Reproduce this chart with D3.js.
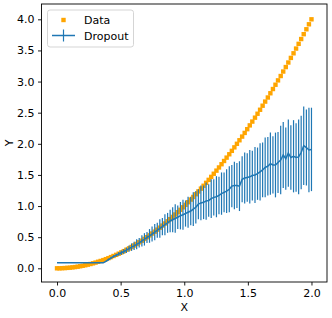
<!DOCTYPE html>
<html>
<head>
<meta charset="utf-8">
<script src="https://cdn.jsdelivr.net/npm/d3@7"></script>
<style>
  body { margin: 0; background: #fff; }
  text { font-family: "DejaVu Sans", sans-serif; }
</style>
</head>
<body>
<div id="graph"></div>
<script>
const svgw = 332
const svgh = 318

// x positions (0..2, 100 samples)
const xs = [0, 0.020, 0.040, 0.061, 0.081, 0.101, 0.121, 0.141, 0.162, 0.182,
  0.202, 0.222, 0.242, 0.263, 0.283, 0.303, 0.323, 0.343, 0.364, 0.384,
  0.404, 0.424, 0.444, 0.465, 0.485, 0.505, 0.525, 0.545, 0.566, 0.586,
  0.606, 0.626, 0.646, 0.667, 0.687, 0.707, 0.727, 0.747, 0.768, 0.788,
  0.808, 0.828, 0.848, 0.869, 0.889, 0.909, 0.929, 0.949, 0.970, 0.990,
  1.010, 1.030, 1.051, 1.071, 1.091, 1.111, 1.131, 1.152, 1.172, 1.192,
  1.212, 1.232, 1.253, 1.273, 1.293, 1.313, 1.333, 1.354, 1.374, 1.394,
  1.414, 1.434, 1.455, 1.475, 1.495, 1.515, 1.535, 1.556, 1.576, 1.596,
  1.616, 1.636, 1.657, 1.677, 1.697, 1.717, 1.737, 1.758, 1.778, 1.798,
  1.818, 1.838, 1.859, 1.879, 1.899, 1.919, 1.939, 1.960, 1.980, 2.000]

// "Data" series
const dataY = [0, 0.000, 0.002, 0.004, 0.007, 0.010, 0.015, 0.020, 0.026, 0.033,
  0.041, 0.049, 0.059, 0.069, 0.080, 0.092, 0.105, 0.118, 0.132, 0.147,
  0.163, 0.180, 0.198, 0.216, 0.235, 0.255, 0.276, 0.298, 0.320, 0.343,
  0.367, 0.392, 0.418, 0.444, 0.472, 0.500, 0.529, 0.559, 0.589, 0.621,
  0.653, 0.686, 0.720, 0.755, 0.790, 0.826, 0.864, 0.902, 0.940, 0.980,
  1.020, 1.062, 1.104, 1.146, 1.190, 1.235, 1.280, 1.326, 1.373, 1.421,
  1.469, 1.519, 1.569, 1.620, 1.672, 1.724, 1.778, 1.832, 1.887, 1.943,
  2.000, 2.057, 2.116, 2.175, 2.235, 2.296, 2.357, 2.420, 2.483, 2.547,
  2.612, 2.678, 2.744, 2.812, 2.880, 2.949, 3.019, 3.089, 3.161, 3.233,
  3.306, 3.380, 3.454, 3.530, 3.606, 3.683, 3.761, 3.840, 3.920, 4.000]

// "Dropout" mean and error
const dropMean = [0.09, 0.09, 0.09, 0.09, 0.09, 0.09, 0.09, 0.09, 0.09, 0.09,
  0.09, 0.09, 0.09, 0.09, 0.09, 0.09, 0.09, 0.09, 0.09, 0.11,
  0.14, 0.165, 0.19, 0.21, 0.23, 0.25, 0.27, 0.29, 0.315, 0.34,
  0.36, 0.385, 0.41, 0.44, 0.465, 0.495, 0.52, 0.55, 0.58, 0.61,
  0.64, 0.67, 0.70, 0.73, 0.76, 0.78, 0.80, 0.82, 0.845, 0.86,
  0.88, 0.90, 0.92, 0.95, 0.98, 1.03, 1.05, 1.06, 1.08, 1.09,
  1.12, 1.14, 1.15, 1.17, 1.20, 1.22, 1.24, 1.27, 1.32, 1.33,
  1.33, 1.32, 1.43, 1.45, 1.46, 1.47, 1.49, 1.50, 1.52, 1.55,
  1.58, 1.62, 1.64, 1.68, 1.66, 1.66, 1.70, 1.74, 1.82, 1.76,
  1.85, 1.78, 1.80, 1.78, 1.79, 1.86, 1.97, 1.94, 1.90, 1.91]

const dropErr = [0, 0, 0, 0, 0, 0, 0, 0, 0, 0,
  0, 0, 0, 0, 0, 0, 0, 0, 0, 0.01,
  0.015, 0.02, 0.02, 0.025, 0.03, 0.035, 0.04, 0.045, 0.05, 0.06,
  0.065, 0.08, 0.075, 0.09, 0.10, 0.09, 0.11, 0.12, 0.13, 0.12,
  0.15, 0.14, 0.17, 0.16, 0.18, 0.20, 0.23, 0.19, 0.22, 0.24,
  0.21, 0.25, 0.23, 0.27, 0.26, 0.24, 0.28, 0.27, 0.30, 0.26,
  0.31, 0.29, 0.33, 0.30, 0.34, 0.32, 0.35, 0.37, 0.34, 0.38,
  0.36, 0.40, 0.37, 0.41, 0.39, 0.43, 0.40, 0.45, 0.42, 0.46,
  0.44, 0.48, 0.47, 0.50, 0.46, 0.52, 0.49, 0.55, 0.53, 0.50,
  0.54, 0.52, 0.58, 0.55, 0.60, 0.59, 0.63, 0.61, 0.68, 0.67]

const xTicks = [0, 0.5, 1.0, 1.5, 2.0]
const yTicks = [0, 0.5, 1.0, 1.5, 2.0, 2.5, 3.0, 3.5, 4.0]
const legendLabels = ['Data', 'Dropout']

const orange = '#ffa500'
const blue = '#1f77b4'

const mLeft = 41.5, mRight = 327, mTop = 4, mBottom = 282

const svg = d3.select('#graph')
    .append('svg')
    .attr('width', svgw)
    .attr('height', svgh)

const xScale = d3.scaleLinear()
    .domain([-0.122, 2.122])
    .range([mLeft, mRight])
const yScale = d3.scaleLinear()
    .domain([-0.22, 4.246])
    .range([mBottom, mTop])

const pts = xs.map((x, i) => ({x: x, y: dataY[i], m: dropMean[i], e: dropErr[i]}))

// data squares
svg.append('g')
    .selectAll('rect')
    .data(pts)
    .enter()
    .append('rect')
    .attr('x', d => xScale(d.x) - 2.2)
    .attr('y', d => yScale(d.y) - 2.2)
    .attr('width', 4.4)
    .attr('height', 4.4)
    .attr('fill', orange)

// error bars
svg.append('g')
    .selectAll('line')
    .data(pts.filter(d => d.e > 0))
    .enter()
    .append('line')
    .attr('x1', d => xScale(d.x))
    .attr('x2', d => xScale(d.x))
    .attr('y1', d => yScale(d.m - d.e))
    .attr('y2', d => yScale(d.m + d.e))
    .attr('stroke', blue)
    .attr('stroke-width', 1.2)

const line = d3.line()
    .x(d => xScale(d.x))
    .y(d => yScale(d.m))

svg.append('path')
    .datum(pts)
    .attr('d', line)
    .attr('fill', 'none')
    .attr('stroke', blue)
    .attr('stroke-width', 1.5)

// axes
const xAxis = d3.axisBottom(xScale).tickValues(xTicks).tickFormat(d3.format('.1f')).tickSize(3.5).tickPadding(3.5)
const yAxis = d3.axisLeft(yScale).tickValues(yTicks).tickFormat(d3.format('.1f')).tickSize(3.5).tickPadding(3.5)

const gx = svg.append('g')
    .attr('transform', `translate(0,${mBottom})`)
    .call(xAxis)
const gy = svg.append('g')
    .attr('transform', `translate(${mLeft},0)`)
    .call(yAxis)

gx.select('.domain').remove()
gy.select('.domain').remove()
svg.selectAll('.tick text')
    .attr('font-size', 11)
    .attr('fill', '#000')
    .style('font-family', '"DejaVu Sans", sans-serif')
svg.selectAll('.tick line').attr('stroke', '#000').attr('stroke-width', 0.9)

svg.append('rect')
    .attr('x', mLeft)
    .attr('y', mTop)
    .attr('width', mRight - mLeft)
    .attr('height', mBottom - mTop)
    .attr('fill', 'none')
    .attr('stroke', '#000')
    .attr('stroke-width', 0.9)

// axis labels
svg.append('text')
    .attr('x', (mLeft + mRight) / 2)
    .attr('y', 311)
    .attr('text-anchor', 'middle')
    .attr('font-size', 11)
    .text('X')

svg.append('text')
    .attr('transform', `translate(13,${(mTop + mBottom) / 2}) rotate(-90)`)
    .attr('text-anchor', 'middle')
    .attr('font-size', 11)
    .text('Y')

// legend
const lg = svg.append('g')
lg.append('rect')
    .attr('x', 47.5)
    .attr('y', 10)
    .attr('width', 86)
    .attr('height', 37)
    .attr('rx', 2.5)
    .attr('fill', 'white')
    .attr('fill-opacity', 0.8)
    .attr('stroke', '#d0d0d0')
    .attr('stroke-width', 0.9)

lg.append('rect')
    .attr('x', 61.3)
    .attr('y', 17.8)
    .attr('width', 4.4)
    .attr('height', 4.4)
    .attr('fill', orange)

lg.append('line')
    .attr('x1', 52).attr('x2', 75)
    .attr('y1', 35.5).attr('y2', 35.5)
    .attr('stroke', blue).attr('stroke-width', 1.5)
lg.append('line')
    .attr('x1', 63.5).attr('x2', 63.5)
    .attr('y1', 29.5).attr('y2', 41.5)
    .attr('stroke', blue).attr('stroke-width', 1.2)

lg.selectAll('text.lbl')
    .data(legendLabels)
    .enter()
    .append('text')
    .attr('class', 'lbl')
    .attr('x', 84)
    .attr('y', (d, i) => 24 + i * 15.5)
    .attr('font-size', 11)
    .text(d => d)
</script>
</body>
</html>
